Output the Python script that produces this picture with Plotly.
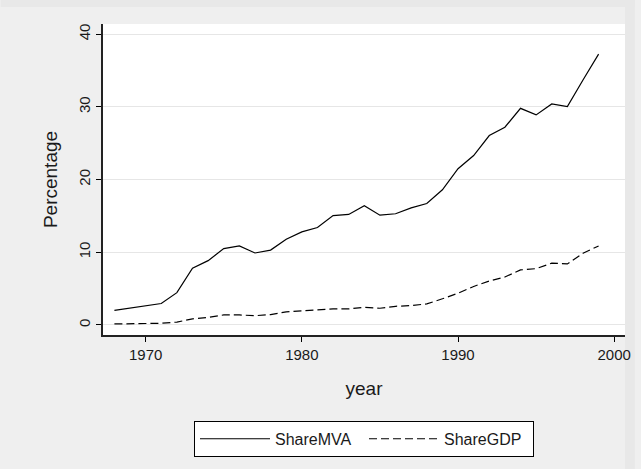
import plotly.graph_objects as go

# Annual shares, 1968-1999
years = list(range(1968, 2000))
share_mva = [2.0, 2.3, 2.6, 2.95, 4.45, 7.8, 8.85, 10.5, 10.87, 9.9, 10.3, 11.8,
             12.8, 13.4, 15.05, 15.2, 16.4, 15.1, 15.3, 16.1, 16.7, 18.6, 21.5, 23.3,
             26.05, 27.2, 29.8, 28.9, 30.4, 30.05, 33.7, 37.25]
share_gdp = [0.14, 0.17, 0.2, 0.23, 0.4, 0.83, 1.05, 1.38, 1.38, 1.28, 1.42, 1.8,
             1.93, 2.06, 2.2, 2.2, 2.43, 2.3, 2.57, 2.66, 2.9, 3.6, 4.36, 5.3,
             6.05, 6.6, 7.57, 7.75, 8.5, 8.4, 9.86, 10.87]
y_ticks = [0, 10, 20, 30, 40]
x_ticks = [1970, 1980, 1990, 2000]

FONT = "Liberation Sans, Arial, sans-serif"
TXT = "#1a1a1a"

fig = go.Figure()
fig.add_trace(go.Scatter(x=years, y=share_mva, mode="lines", name="ShareMVA",
                         line=dict(color="black", width=1.2)))
fig.add_trace(go.Scatter(x=years, y=share_gdp, mode="lines", name="ShareGDP",
                         line=dict(color="black", width=1.2, dash="8px,4px")))

# plot area in pixels: left 103.4, right 631, top 24, bottom 335
L, R, T, B = 103.4, 631.0, 24.0, 335.0
W, H = 641, 469


def px_x(p):
    return (p - L) / (R - L)


def px_y(p):
    return (B - p) / (B - T)


# thin frame strips along the top and right edges
strips = [
    (0, 0, 641, 7, "#e8e8e8"),
    (631, 0, 641, 469, "#e8e8e8"),
]
shapes = []
for x0, y0, x1, y1, c in strips:
    shapes.append(dict(type="rect", xref="paper", yref="paper", layer="below",
                       x0=px_x(x0), x1=px_x(x1), y0=px_y(y1), y1=px_y(y0),
                       fillcolor=c, line=dict(width=0)))

fig.update_layout(
    width=W, height=H,
    margin=dict(l=L, r=W - R, t=T, b=H - B, pad=0),
    paper_bgcolor="#efefef",
    plot_bgcolor="white",
    font=dict(family=FONT, size=16, color=TXT),
    shapes=shapes,
    showlegend=True,
    legend=dict(orientation="h", x=0.5, xanchor="center", y=-0.276, yanchor="top",
                bgcolor="white", bordercolor="black", borderwidth=1,
                font=dict(family=FONT, size=16, color=TXT),
                itemwidth=70, entrywidth=84, traceorder="normal"),
    xaxis=dict(range=[1967.27, 2000.69], tickvals=x_ticks,
               ticks="outside", ticklen=5, tickcolor="black", tickwidth=1,
               showline=True, linecolor="#222", linewidth=1.5,
               showgrid=False, zeroline=False,
               title=dict(text="year", standoff=20),
               tickfont=dict(size=15)),
    yaxis=dict(range=[-1.38, 41.4], tickvals=y_ticks, tickangle=-90,
               ticks="outside", ticklen=5, tickcolor="black", tickwidth=1,
               showline=True, linecolor="#222", linewidth=1.5,
               showgrid=True, gridcolor="#e6e6e6", gridwidth=1,
               zeroline=False,
               title=dict(text="Percentage", standoff=14),
               tickfont=dict(size=15)),
)

fig.write_html("out.html")
